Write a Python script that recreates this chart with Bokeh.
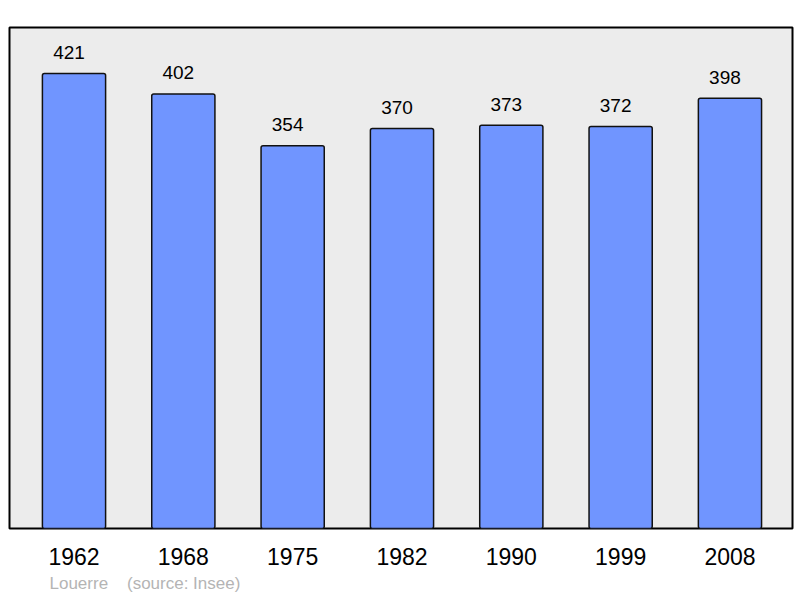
from bokeh.plotting import figure
from bokeh.models import ColumnDataSource, FixedTicker, Title, Range1d
from bokeh.core.properties import value
from bokeh.embed import file_html
from bokeh.resources import INLINE

years = ["1962", "1968", "1975", "1982", "1990", "1999", "2008"]
population = [421, 402, 354, 370, 373, 372, 398]
commune = "Louerre"
source_note = "(source: Insee)"

xs = list(range(len(years)))
src = ColumnDataSource(dict(x=xs, top=population, label=[str(v) for v in population]))

p = figure(width=800, height=598, output_backend="svg", toolbar_location=None,
           x_range=Range1d(-0.59, 6.572), y_range=Range1d(0, 463.5),
           min_border_left=9, min_border_right=8, min_border_top=27, min_border_bottom=70)
p.background_fill_color = "#ececec"
p.border_fill_color = "white"
p.outline_line_color = "black"
p.outline_line_width = 2
p.grid.visible = False
p.yaxis.visible = False

p.vbar(x="x", top="top", bottom=0, width=0.578, source=src,
       fill_color="#7095ff", line_color="#111111", line_width=1.5, border_radius=2)

p.text(x="x", y="top", text="label", source=src, text_align="center",
       text_baseline="alphabetic", y_offset=-21, x_offset=-5, text_font_size="19px",
       text_font=value("Liberation Sans"), text_color="black")

xa = p.xaxis[0]
xa.ticker = FixedTicker(ticks=xs)
xa.major_label_overrides = {i: y for i, y in zip(xs, years)}
xa.axis_line_color = None
xa.major_tick_line_color = None
xa.minor_tick_line_color = None
xa.major_label_text_font_size = "23px"
xa.major_label_text_font = "Liberation Sans"
xa.major_label_text_color = "black"
xa.major_label_standoff = 13

note = commune + "\u00a0" * 4 + source_note
p.add_layout(Title(text=note, align="left", offset=40, standoff=8,
                   text_font_size="17px", text_font="Liberation Sans",
                   text_font_style="normal", text_color="#b4b4b4"), "below")

open("out.html", "w").write(file_html(p, INLINE))
